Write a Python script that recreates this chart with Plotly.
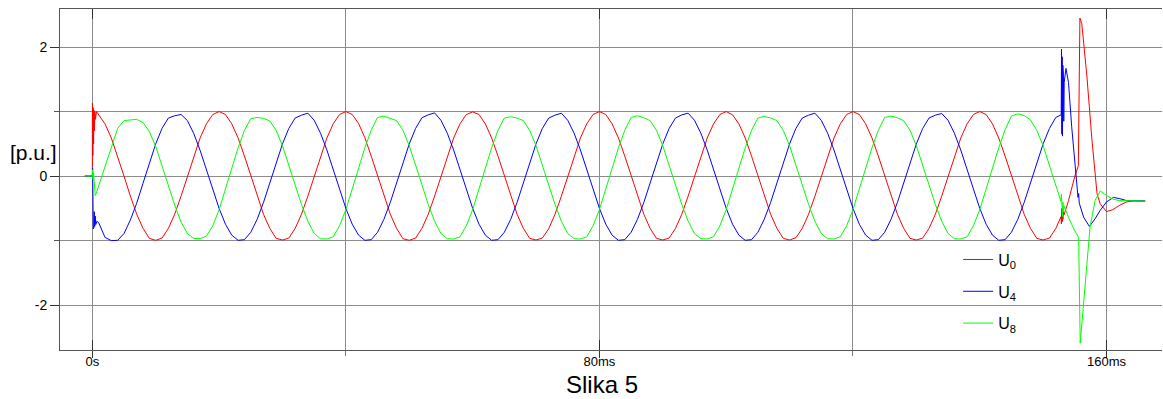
import plotly.graph_objects as go

# ---------------- data (time in ms, voltage in p.u.) ----------------
names = ["U<sub>0</sub>", "U<sub>4</sub>", "U<sub>8</sub>"]
colors = ["#ff0000", "#0000ff", "#00ff00"]

# switching transient around t = 0
red_start_t = [-1.2, 0.0, 0.02, 0.08, 0.14, 0.2, 0.26, 0.32, 0.4, 0.5, 0.65, 0.8]
red_start_v = [0.0, 0.0, 1.13, 0.32, 1.06, 0.5, 1.02, 0.7, 1.0, 0.88, 1.0, 0.98]
blue_start_t = [-1.2, 0.0, 0.05, 0.1, 0.15, 0.2, 0.25, 0.3, 0.38, 0.46, 0.55, 0.7]
blue_start_v = [0.0, 0.0, 0.12, -0.3, -0.82, -0.45, -0.8, -0.55, -0.78, -0.62, -0.75, -0.7]
green_start_t = [-1.2, 0.0, 0.05, 0.1, 0.2, 0.3, 0.45, 0.6, 0.8]
green_start_v = [0.0, 0.0, 0.1, -0.05, 0.05, -0.2, -0.3, -0.27, -0.21]

# steady state, sampled every 1 ms from t = 1 ms to t = 152 ms
t_steady = list(range(1, 153))
red_steady = [
    0.95, 0.81, 0.59, 0.31, 0.0, -0.31, -0.59, -0.81, -0.965, -0.995, -0.96, -0.81, -0.59, -0.31, 0.0, 0.31, 0.59, 0.81, 0.955,
    1.0, 0.955, 0.81, 0.59, 0.31, 0.0, -0.31, -0.59, -0.81, -0.965, -0.99, -0.96, -0.81, -0.59, -0.31, 0.0, 0.31, 0.59, 0.81, 0.955,
    1.0, 0.955, 0.815, 0.595, 0.31, 0.005, -0.305, -0.59, -0.81, -0.97, -0.995, -0.96, -0.81, -0.59, -0.31, 0.0, 0.31, 0.59, 0.81, 0.955,
    0.995, 0.955, 0.81, 0.59, 0.31, 0.0, -0.31, -0.59, -0.81, -0.965, -0.99, -0.96, -0.815, -0.59, -0.31, 0.0, 0.31, 0.59, 0.81, 0.955,
    1.0, 0.955, 0.81, 0.59, 0.31, 0.0, -0.31, -0.59, -0.81, -0.965, -0.99, -0.96, -0.81, -0.59, -0.31, 0.0, 0.31, 0.59, 0.81, 0.955,
    1.0, 0.95, 0.81, 0.59, 0.31, 0.0, -0.31, -0.59, -0.81, -0.965, -0.99, -0.955, -0.81, -0.59, -0.31, 0.0, 0.31, 0.59, 0.81, 0.955,
    1.0, 0.955, 0.81, 0.59, 0.31, 0.0, -0.31, -0.59, -0.81, -0.965, -0.99, -0.96, -0.81, -0.59, -0.31, 0.0, 0.31, 0.59, 0.81, 0.955,
    1.0, 0.955, 0.81, 0.59, 0.31, 0.0, -0.31, -0.59, -0.81, -0.965, -0.99, -0.96, -0.81,
]
blue_steady = [
    -0.72, -0.95, -1.0, -0.995, -0.89, -0.68, -0.42, -0.11, 0.2, 0.5, 0.74, 0.9, 0.935, 0.955, 0.86, 0.66, 0.4, 0.1, -0.21,
    -0.5, -0.745, -0.915, -0.995, -0.985, -0.87, -0.67, -0.41, -0.105, 0.205, 0.5, 0.74, 0.9, 0.945, 0.975, 0.865, 0.665, 0.405, 0.1, -0.21,
    -0.5, -0.745, -0.915, -0.995, -0.985, -0.87, -0.67, -0.41, -0.105, 0.205, 0.5, 0.74, 0.905, 0.95, 0.98, 0.865, 0.665, 0.405, 0.1, -0.21,
    -0.5, -0.745, -0.915, -0.995, -0.985, -0.87, -0.67, -0.41, -0.105, 0.205, 0.5, 0.74, 0.9, 0.945, 0.975, 0.865, 0.665, 0.405, 0.1, -0.21,
    -0.5, -0.745, -0.915, -0.995, -0.985, -0.87, -0.67, -0.41, -0.105, 0.205, 0.5, 0.74, 0.9, 0.95, 0.975, 0.865, 0.665, 0.405, 0.1, -0.21,
    -0.5, -0.745, -0.915, -0.995, -0.985, -0.87, -0.67, -0.41, -0.105, 0.205, 0.5, 0.74, 0.9, 0.945, 0.975, 0.865, 0.665, 0.405, 0.1, -0.21,
    -0.5, -0.745, -0.915, -0.995, -0.985, -0.87, -0.67, -0.41, -0.105, 0.205, 0.5, 0.74, 0.9, 0.945, 0.97, 0.865, 0.665, 0.405, 0.1, -0.21,
    -0.5, -0.745, -0.915, -0.995, -0.985, -0.87, -0.67, -0.41, -0.105, 0.205, 0.5, 0.74, 0.91,
]
green_steady = [
    -0.15, 0.15, 0.45, 0.74, 0.86, 0.87, 0.88, 0.83, 0.69, 0.46, 0.16, -0.15, -0.45, -0.71, -0.89, -0.965, -0.97, -0.93, -0.77,
    -0.52, -0.19, 0.14, 0.44, 0.71, 0.89, 0.91, 0.895, 0.855, 0.71, 0.47, 0.17, -0.14, -0.44, -0.7, -0.89, -0.97, -0.975, -0.94, -0.77,
    -0.52, -0.19, 0.14, 0.44, 0.71, 0.91, 0.93, 0.9, 0.86, 0.71, 0.47, 0.17, -0.14, -0.44, -0.7, -0.89, -0.97, -0.975, -0.94, -0.77,
    -0.52, -0.19, 0.14, 0.44, 0.71, 0.9, 0.92, 0.9, 0.86, 0.71, 0.47, 0.17, -0.14, -0.44, -0.7, -0.89, -0.97, -0.975, -0.94, -0.77,
    -0.52, -0.19, 0.14, 0.44, 0.71, 0.91, 0.935, 0.905, 0.86, 0.71, 0.47, 0.17, -0.14, -0.44, -0.7, -0.89, -0.97, -0.975, -0.94, -0.77,
    -0.52, -0.19, 0.14, 0.44, 0.71, 0.9, 0.925, 0.9, 0.86, 0.71, 0.47, 0.17, -0.14, -0.44, -0.7, -0.89, -0.97, -0.975, -0.94, -0.77,
    -0.52, -0.19, 0.14, 0.44, 0.71, 0.91, 0.93, 0.905, 0.86, 0.71, 0.47, 0.17, -0.14, -0.44, -0.7, -0.89, -0.97, -0.975, -0.94, -0.77,
    -0.52, -0.19, 0.14, 0.44, 0.72, 0.93, 0.965, 0.94, 0.87, 0.71, 0.47, 0.17, -0.14,
]

# disconnection transient near the end
red_end_t = [152.8, 152.88, 152.94, 153.0, 153.06, 153.12, 153.2, 153.3, 154.0, 155.0, 155.55, 155.8,
             156.1, 156.9, 157.7, 158.5, 159.0, 160.0, 161.0, 162.1, 163.2, 164.2, 166.1]
red_end_v = [-0.63, -0.74, -0.5, -0.71, -0.52, -0.67, -0.55, -0.6, -0.38, 0.0, 0.16, 2.45,
             2.36, 1.55, 0.56, -0.27, -0.43, -0.55, -0.52, -0.45, -0.4, -0.385, -0.385]
blue_end_t = [152.85, 152.9, 152.95, 153.0, 153.05, 153.1, 153.15, 153.2, 153.25, 153.32, 153.6, 154.0, 154.5,
              155.0, 155.5, 155.6, 155.7, 156.4, 157.3, 158.2, 159.0, 160.0, 161.1, 162.1, 163.2, 166.1]
blue_end_v = [0.95, 1.97, 0.65, 1.85, 0.62, 1.72, 0.75, 1.58, 0.85, 1.45, 1.67, 1.45, 0.77,
              0.15, -0.33, -0.27, -0.42, -0.64, -0.78, -0.66, -0.53, -0.4, -0.33, -0.35, -0.38, -0.385]
green_end_t = [152.8, 152.88, 152.94, 153.0, 153.06, 153.12, 153.2, 153.3, 154.0, 155.0, 155.6, 155.85,
               157.4, 158.2, 159.0, 160.0, 161.1, 162.1, 166.1]
green_end_v = [-0.39, -0.28, -0.56, -0.33, -0.63, -0.4, -0.55, -0.46, -0.64, -0.85, -0.95, -2.59,
               -0.79, -0.375, -0.23, -0.3, -0.36, -0.38, -0.385]

x_tickvals = [0, 80, 160]
x_ticktext = ["0s", "80ms", "160ms"]
y_tickvals = [-2, 0, 2]
y_ticktext = ["-2", "0", "2"]

series = [
    (red_start_t + t_steady + red_end_t, red_start_v + red_steady + red_end_v),
    (blue_start_t + t_steady + blue_end_t, blue_start_v + blue_steady + blue_end_v),
    (green_start_t + t_steady + green_end_t, green_start_v + green_steady + green_end_v),
]

FONT = "Liberation Sans, Arial, sans-serif"
GRID = "#8c8c8c"
AXIS = "#555555"

fig = go.Figure()
for i, ((tx, vy), nm, col) in enumerate(zip(series, names, colors)):
    fig.add_trace(go.Scatter(x=tx, y=vy, mode="lines", name=nm,
                             line=dict(color=col, width=1),
                             legendgroup="g%d" % i))

# invisible trace carrying the overlay axis with inside (mirrored) ticks
fig.add_trace(go.Scatter(x=[0], y=[0], xaxis="x2", mode="markers",
                         marker=dict(opacity=0), showlegend=False, hoverinfo="skip"))

fig.update_layout(
    width=1163, height=399,
    margin=dict(l=60, r=1, t=9, b=49),
    paper_bgcolor="white", plot_bgcolor="white",
    font=dict(family=FONT, color="black", size=13),
    showlegend=True,
    legend=dict(x=0.815, y=0.315, xanchor="left", yanchor="top",
                bgcolor="rgba(0,0,0,0)", font=dict(size=16, family=FONT, color="black"),
                tracegroupgap=8),
    xaxis=dict(range=[-5.1, 168.75], tickmode="array", tickvals=x_tickvals, ticktext=x_ticktext,
               ticks="outside", ticklen=7, tickcolor="#333333", tickfont=dict(size=13),
               ticklabelstandoff=-8,
               showgrid=True, gridcolor=GRID, gridwidth=1, zeroline=False,
               showline=True, linecolor=AXIS, linewidth=1, mirror=True,
               minor=dict(tickmode="array", tickvals=[40, 120], ticks="outside", ticklen=5,
                          tickcolor="#777777", showgrid=True, gridcolor=GRID, gridwidth=1)),
    xaxis2=dict(range=[-5.1, 168.75], overlaying="x", anchor="y", side="bottom",
                tickmode="array", tickvals=x_tickvals, ticks="inside", ticklen=10,
                tickcolor="#333333", showticklabels=False, showgrid=False, zeroline=False,
                showline=False, mirror="ticks"),
    yaxis=dict(range=[-2.695, 2.59], tickmode="array", tickvals=y_tickvals, ticktext=y_ticktext,
               ticks="outside", ticklen=9, tickcolor="#333333", tickfont=dict(size=14),
               showgrid=True, gridcolor=GRID, gridwidth=1, zeroline=False,
               showline=True, linecolor=AXIS, linewidth=1, mirror=False,
               minor=dict(dtick=1, tick0=0, ticks="outside", ticklen=5, tickcolor="#555555",
                          showgrid=True, gridcolor=GRID, gridwidth=1)),
    annotations=[
        dict(text="[p.u.]", xref="paper", yref="paper", x=-0.024, y=0.5806,
             xanchor="center", yanchor="middle", showarrow=False,
             font=dict(size=21, family=FONT, color="black")),
        dict(text="Slika 5", xref="paper", yref="paper", x=0.4914, y=-0.1026,
             xanchor="center", yanchor="middle", showarrow=False,
             font=dict(size=24, family=FONT, color="black")),
    ],
)

fig.write_html("out.html")
